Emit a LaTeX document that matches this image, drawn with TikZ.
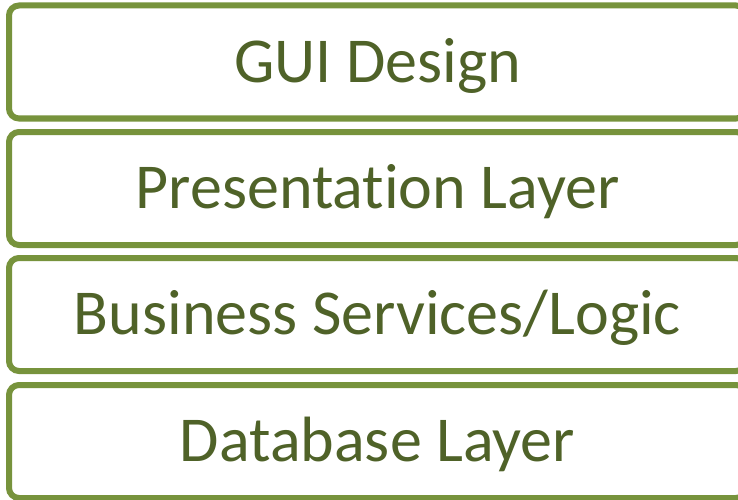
\documentclass[tikz,border=0pt]{standalone}
\usepackage{fontspec}
\setmainfont[Ligatures=NoCommon]{Carlito}
\definecolor{layerline}{HTML}{77933C}
\definecolor{layertext}{HTML}{4F6228}
\tikzset{
  layer/.style={draw=layerline, line width=6pt, rounded corners=10pt, fill=white,
    minimum width=737pt, minimum height=113pt, inner sep=0pt,
    text height=40.5pt, text depth=0pt, text=layertext,
    font=\fontsize{64}{72}\selectfont}
}
\begin{document}
\begin{tikzpicture}[x=1pt,y=-1pt]
  \useasboundingbox (0,0) rectangle (738,500);
  \clip (0,0) rectangle (738,500);
  % stacked architecture layers, top to bottom
  \node[layer] (gui)  at (377.5,62)    {GUI Design};
  \node[layer] (pres) at (377.5,188.5) {Presentation Layer};
  \node[layer] (biz)  at (377.5,314.5) {Business Services/Logic};
  \node[layer] (db)   at (377.5,441.5) {Database Layer};
\end{tikzpicture}
\end{document}
